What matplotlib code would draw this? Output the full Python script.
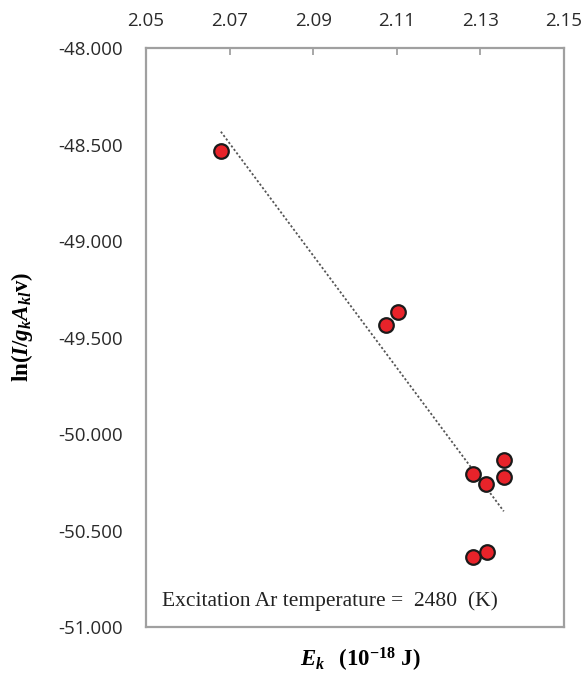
import numpy as np
import matplotlib
matplotlib.use('Agg')
import matplotlib.pyplot as plt

plt.rcParams['mathtext.fontset'] = 'custom'
plt.rcParams['mathtext.rm'] = 'Liberation Serif:bold'
plt.rcParams['mathtext.it'] = 'Liberation Serif:bold:italic'
plt.rcParams['mathtext.bf'] = 'Liberation Serif:bold'

# energy of upper level (10^-18 J) and ln(I/gA v)
ek = [2.0679, 2.1074, 2.1103, 2.1282, 2.1313, 2.1356, 2.1356, 2.1282, 2.1316]
lnv = [-48.534, -49.435, -49.368, -50.207, -50.259, -50.135, -50.223, -50.637, -50.611]
xticks = [2.05, 2.07, 2.09, 2.11, 2.13, 2.15]
yticks = [-48.0, -48.5, -49.0, -49.5, -50.0, -50.5, -51.0]
temp_txt = 'Excitation Ar temperature =  2480  (K)'

fig = plt.figure(figsize=(5.82, 6.80), dpi=100)
ax = fig.add_axes([0.251, 0.078, 0.718, 0.851])

# linear fit (trendline)
p = np.polyfit(ek, lnv, 1)
xf = np.array([min(ek), max(ek)])
ax.plot(xf, np.polyval(p, xf), ls=(0, (1.2, 1.2)), c='#555555', lw=1.3, zorder=2)

ax.scatter(ek, lnv, s=110, c='#e8232a', edgecolors='#1a1a1a', linewidths=1.6, zorder=3)

ax.set_xlim(2.05, 2.15)
ax.set_ylim(-51.0, -48.0)
ax.set_xticks(xticks)
ax.set_yticks(yticks)
ax.set_xticklabels(['%.2f' % v for v in xticks])
ax.set_yticklabels(['%.3f' % v for v in yticks])
ax.xaxis.tick_top()
ax.tick_params(axis='x', direction='in', length=5, width=1.3, color='#a0a0a0',
               pad=13, labelsize=13.5, labelcolor='#2a2a2a')
ax.tick_params(axis='y', length=0, pad=17, labelsize=13.5, labelcolor='#2a2a2a')
for lab in ax.get_xticklabels() + ax.get_yticklabels():
    lab.set_family('Open Sans')
for s in ax.spines.values():
    s.set_color('#a0a0a0')
    s.set_linewidth(1.6)

ax.text(2.0538, -50.865, temp_txt, family='Liberation Serif', fontsize=15.5,
        va='center', ha='left', color='#222222')

fig.text(0.038, 0.519, r'$\mathrm{ln(}I/g_kA_{kl}\mathrm{v)}$', rotation=90,
         fontsize=16.5, ha='center', va='center')
fig.text(0.619, 0.03, r'$E_k$  $\mathrm{(10^{-18}\ J)}$', fontsize=16.5,
         ha='center', va='center')

fig.savefig('out.png', dpi=100)
